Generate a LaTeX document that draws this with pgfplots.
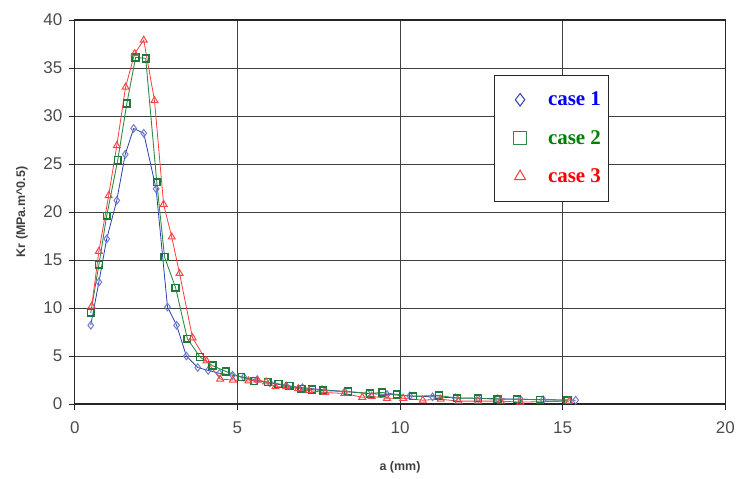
\documentclass[border=0pt]{standalone}
\usepackage{fontspec}
\setmainfont{Liberation Sans}
\newfontfamily\legfont{Liberation Serif}
\usepackage{pgfplots}
\pgfplotsset{compat=1.18}

\definecolor{cblue}{HTML}{2A3FB0}
\definecolor{cbluem}{HTML}{6E7DC8}
\definecolor{cgreen}{HTML}{2E8B4A}
\definecolor{cgreenm}{HTML}{1F7A3A}
\definecolor{cred}{HTML}{FF3B3B}
\definecolor{credm}{HTML}{F04848}

\pgfplotstableread{
x y
0.49 8.2
0.74 12.7
0.98 17.2
1.29 21.2
1.55 26.0
1.81 28.7
2.12 28.2
2.50 22.4
2.85 10.1
3.13 8.2
3.43 5.0
3.78 3.8
4.10 3.5
4.45 3.2
4.85 3.0
5.20 2.8
5.60 2.5
6.00 2.2
6.50 1.9
7.00 1.7
7.60 1.5
8.30 1.3
9.00 1.1
9.60 1.0
10.30 0.85
11.00 0.75
11.70 0.65
12.40 0.6
13.00 0.55
13.70 0.5
14.40 0.45
15.40 0.4
}\caseone

\pgfplotstableread{
x y
0.49 9.5
0.74 14.5
0.98 19.6
1.32 25.4
1.60 31.3
1.87 36.1
2.18 36.0
2.52 23.1
2.76 15.3
3.10 12.1
3.46 6.8
3.85 4.9
4.23 4.0
4.64 3.4
5.12 2.8
5.52 2.4
5.93 2.3
6.26 2.1
6.60 1.9
6.97 1.6
7.30 1.5
7.64 1.4
8.40 1.3
9.08 1.1
9.45 1.2
9.90 1.0
10.40 0.8
11.20 0.9
11.75 0.6
12.40 0.6
13.00 0.5
13.60 0.5
14.30 0.45
15.15 0.4
}\casetwo

\pgfplotstableread{
x y
0.52 10.2
0.74 15.9
1.04 21.7
1.29 26.9
1.56 33.0
1.84 36.5
2.12 37.9
2.45 31.6
2.73 20.8
2.98 17.4
3.22 13.6
3.62 6.9
4.05 4.5
4.47 2.6
4.86 2.5
5.34 2.4
5.62 2.5
5.88 2.3
6.17 1.8
6.50 1.8
6.87 1.6
7.20 1.4
7.70 1.2
8.29 1.1
8.84 0.7
9.13 0.8
9.60 0.6
10.10 0.6
10.70 0.4
11.25 0.5
11.80 0.3
12.40 0.3
13.10 0.3
13.70 0.2
15.20 0.3
}\casethree

\begin{document}
\begin{tikzpicture}
\path (-75pt,-75pt) rectangle (663pt,405pt);
\begin{axis}[
    at={(0,0)}, anchor=south west,
    scale only axis,
    width=652pt, height=385pt,
    xmin=0, xmax=20, ymin=0, ymax=40,
    xtick={0,5,...,20}, ytick={0,5,...,40},
    grid=major,
    major grid style={black!75, line width=0.8pt},
    axis line style={black!85, line width=1.1pt},
    tick align=outside, xtick pos=bottom, ytick pos=left,
    major tick length=6pt,
    tick style={black!85, line width=0.9pt},
    tick label style={font=\fontsize{17}{17}\selectfont, text=black!70},
    /pgf/number format/assume math mode=true,
    xticklabel style={yshift=-8pt},
    yticklabel style={xshift=-3pt},
    xlabel={\textbf{a (mm)}},
    ylabel={\textbf{Kr (MPa.m\^{}0.5)}},
    label style={font=\fontsize{12.5}{13}\selectfont, text=black!75},
    xlabel style={at={(axis description cs:0.5,0)}, anchor=center, yshift=-63pt},
    ylabel style={at={(axis description cs:0,0.5)}, anchor=center, yshift=53pt},
    legend style={at={(axis cs:12.88,34.3)}, anchor=north west,
        draw=black!85, line width=0.9pt, fill=white,
        font=\legfont\bfseries\fontsize{21}{21}\selectfont,
        row sep=19pt, inner xsep=6pt, inner ysep=15pt},
    legend cell align=left,
    legend image code/.code={
        \draw[#1, mark size=6.3pt, mark options={line width=1pt}] plot coordinates {(20pt,0pt)};
        \path[draw=none, fill=none] (0pt,0pt) rectangle (46pt,0pt);},
]
\addplot[cblue, line width=0.8pt, mark=diamond, mark size=3.8pt,
    mark options={draw=cbluem, fill=white, line width=1pt}] table {\caseone};
\addlegendentry{\textcolor{blue}{case 1}}
\addplot[cgreen, line width=0.9pt, mark=square, mark size=3.4pt,
    mark options={draw=cgreenm, fill=white, line width=1.5pt}] table {\casetwo};
\addlegendentry{\textcolor{green!50!black}{case 2}}
\addplot[cred, line width=0.8pt, mark=triangle, mark size=4pt,
    mark options={draw=credm, fill=white, line width=1pt}] table {\casethree};
\addlegendentry{\textcolor{red}{case 3}}
\end{axis}
\end{tikzpicture}
\end{document}
